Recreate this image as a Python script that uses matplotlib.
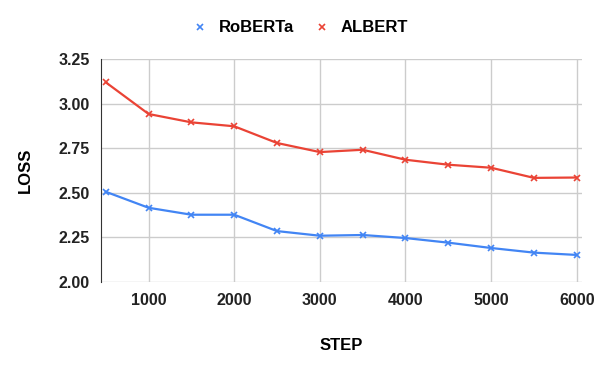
import matplotlib.pyplot as plt

plt.rcParams['font.family'] = ['Liberation Sans', 'DejaVu Sans']

steps = [500, 1000, 1500, 2000, 2500, 3000, 3500, 4000, 4500, 5000, 5500, 6000]
roberta = [2.506, 2.416, 2.377, 2.377, 2.285, 2.259, 2.263, 2.246, 2.220, 2.190, 2.164, 2.151]
albert = [3.121, 2.943, 2.896, 2.874, 2.780, 2.729, 2.742, 2.686, 2.658, 2.641, 2.584, 2.586]
yticks = [2.00, 2.25, 2.50, 2.75, 3.00, 3.25]
xticks = [1000, 2000, 3000, 4000, 5000, 6000]

fig = plt.figure(figsize=(6, 3.71), dpi=100)
ax = fig.add_axes([0.168, 0.2404, 0.8015, 0.5996])

ax.plot(steps, roberta, color='#4285F4', lw=1.6, marker='x', ms=5, mew=1.2, label='RoBERTa')
ax.plot(steps, albert, color='#EA4335', lw=1.6, marker='x', ms=5, mew=1.2, label='ALBERT')

ax.set_xlim(442, 6058)
ax.set_ylim(2.0, 3.25)
ax.set_xticks(xticks)
ax.set_yticks(yticks)
ax.set_yticklabels([f"{v:.2f}" for v in yticks])
ax.grid(True, color='#cccccc', lw=1)
ax.set_axisbelow(True)
for s in ['top', 'right', 'bottom']:
    ax.spines[s].set_visible(False)
ax.spines['left'].set_color('#333333')
ax.tick_params(length=0, labelsize=11.5, pad=8)
for lbl in ax.get_xticklabels() + ax.get_yticklabels():
    lbl.set_fontweight('bold')
    lbl.set_color('#222222')

ax.set_xlabel('STEP', fontsize=12, fontweight='bold', labelpad=22)
ax.set_ylabel('LOSS', fontsize=12, fontweight='bold', labelpad=18)

# legend centred on the figure, not the axes
handles, labels = ax.get_legend_handles_labels()
leg = fig.legend(handles, labels, loc='center', bbox_to_anchor=(0.5, 1 - 28 / 371), ncol=2,
                 frameon=False, prop={'weight': 'bold', 'size': 12}, handlelength=1.0,
                 handletextpad=0.6, columnspacing=1.2)
for h in leg.get_lines():
    h.set_linestyle('none')

fig.savefig('out.png', dpi=100)
